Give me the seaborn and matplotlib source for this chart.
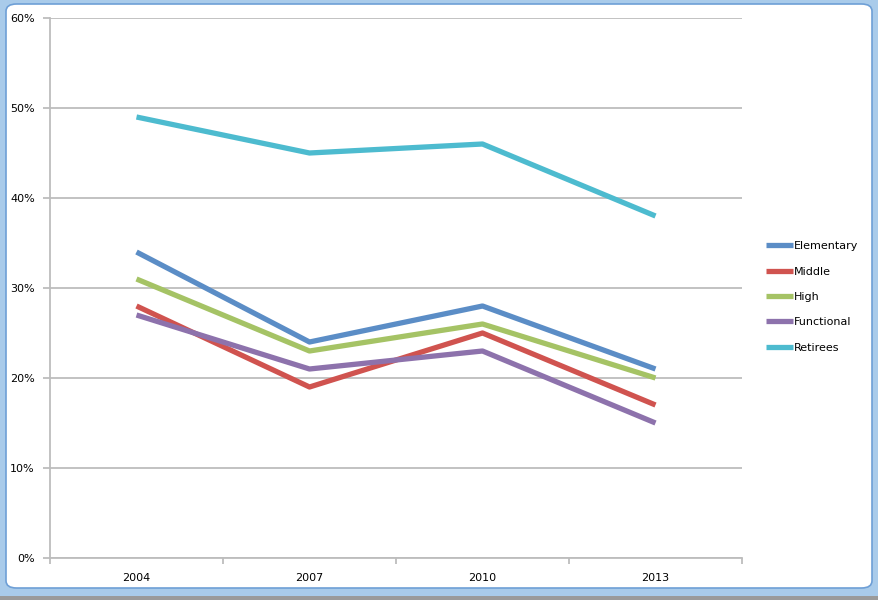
import pandas as pd
import matplotlib.pyplot as plt
import seaborn as sns
from matplotlib.patches import FancyBboxPatch, Rectangle
from matplotlib.ticker import FixedLocator, PercentFormatter

years = ["2004", "2007", "2010", "2013"]
elementary = [34, 24, 28, 21]
middle = [28, 19, 25, 17]
high = [31, 23, 26, 20]
functional = [27, 21, 23, 15]
retirees = [49, 45, 46, 38]

series = {
    "Elementary": elementary,
    "Middle": middle,
    "High": high,
    "Functional": functional,
    "Retirees": retirees,
}
colors = {
    "Elementary": "#5B8DC6",
    "Middle": "#D0534F",
    "High": "#A5C365",
    "Functional": "#8D72AC",
    "Retirees": "#4DBBCF",
}

rows = []
for name, vals in series.items():
    for yr, v in zip(years, vals):
        rows.append({"year": yr, "value": v, "group": name})
df = pd.DataFrame(rows)

sns.set_style("white")
plt.rcParams["font.family"] = ["DejaVu Sans"]
plt.rcParams["text.color"] = "black"

fig = plt.figure(figsize=(8.79, 6.0), dpi=100)

# window-like frame
fig.patches.append(Rectangle((0, 0), 1, 1, transform=fig.transFigure,
                             facecolor="#A9CBEA", edgecolor="none", zorder=-3))
fig.patches.append(Rectangle((0, 0), 1, 4 / 600, transform=fig.transFigure,
                             facecolor="#9A9A9A", edgecolor="none", zorder=-2))
fig.patches.append(FancyBboxPatch((6 / 879, 12 / 600), 866 / 879, 584 / 600,
                                  boxstyle="round,pad=0,rounding_size=0.012",
                                  transform=fig.transFigure, facecolor="white",
                                  edgecolor="#6E9FD6", linewidth=1.2, zorder=-1))

ax = fig.add_axes([50 / 879, 42 / 600, 692 / 879, 540 / 600])
ax.patch.set_alpha(0)

sns.lineplot(data=df, x="year", y="value", hue="group", palette=colors,
             linewidth=3.8, ax=ax, sort=False, legend=True)
for line in ax.lines:
    line.set_solid_capstyle("butt")
    line.set_solid_joinstyle("round")

ax.set_xlim(-0.5, 3.5)
ax.set_ylim(0, 60)
ax.set_yticks(range(0, 61, 10))
ax.yaxis.set_major_formatter(PercentFormatter(decimals=0))
ax.yaxis.grid(True, color="#BDBDBD", linewidth=1.3)
ax.set_axisbelow(True)
ax.set_xlabel("")
ax.set_ylabel("")

ax.xaxis.set_minor_locator(FixedLocator([-0.5, 0.5, 1.5, 2.5, 3.5]))
ax.tick_params(axis="x", which="major", bottom=False, length=0, pad=11,
               labelsize=8, labelcolor="black")
ax.tick_params(axis="x", which="minor", bottom=True, length=4, width=1.3,
               color="#BDBDBD", direction="out")
ax.tick_params(axis="y", left=True, length=5, width=1.3, color="#BDBDBD",
               direction="out", pad=6, labelsize=8, labelcolor="black")

for side in ["top", "right"]:
    ax.spines[side].set_visible(False)
for side in ["left", "bottom"]:
    ax.spines[side].set_color("#BDBDBD")
    ax.spines[side].set_linewidth(1.3)

handles, labels = ax.get_legend_handles_labels()
leg = ax.legend(handles, labels, loc="center left", bbox_to_anchor=(762 / 879, 303 / 600),
                bbox_transform=fig.transFigure, frameon=False, fontsize=8,
                handlelength=2.4, handletextpad=0.05, labelspacing=1.38, borderaxespad=0)
for t in leg.get_texts():
    t.set_color("black")

fig.savefig("out.png", dpi=100)
plt.close(fig)
